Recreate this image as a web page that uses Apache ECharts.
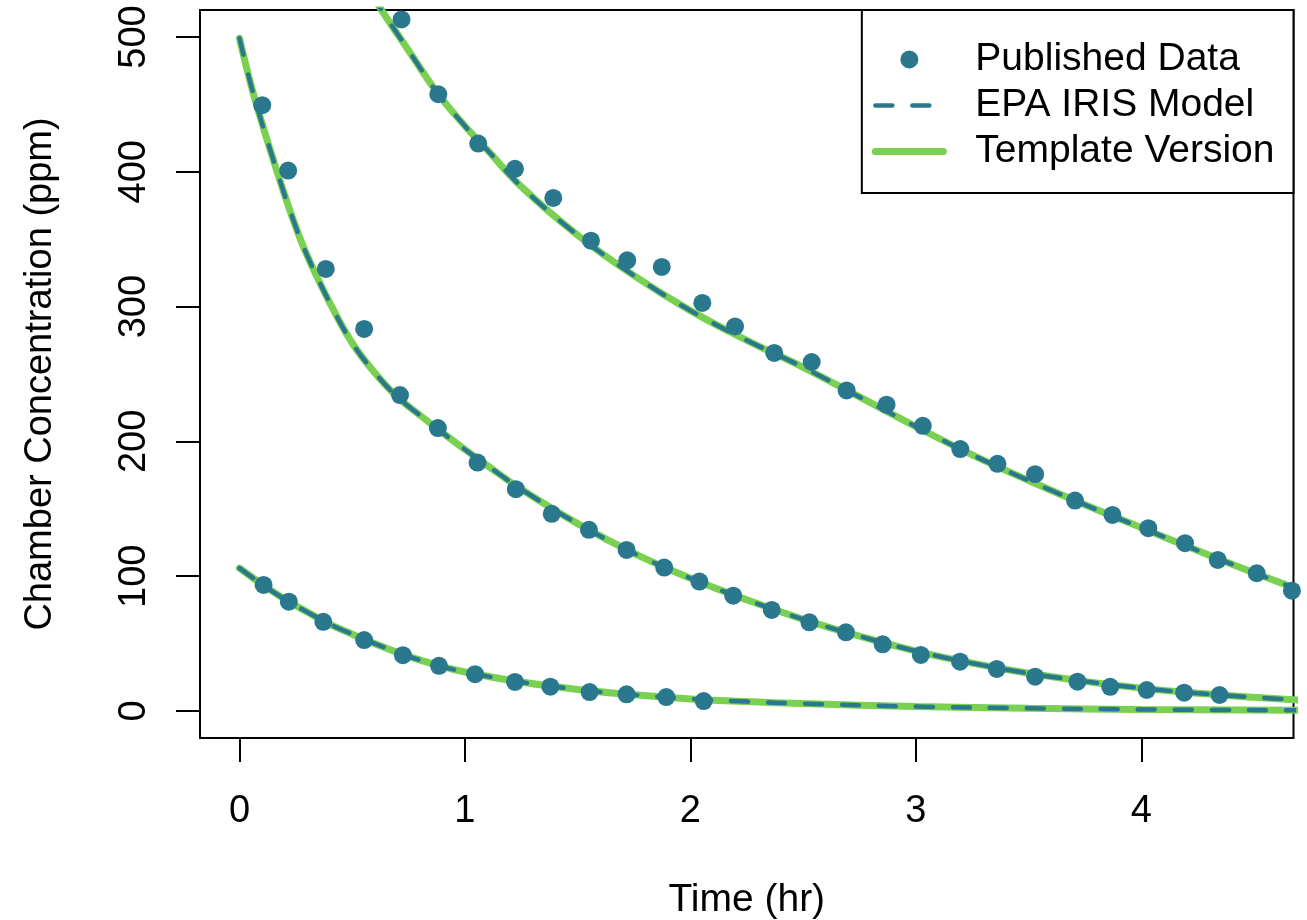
<!DOCTYPE html>
<html>
<head>
<meta charset="utf-8">
<script src="https://cdn.jsdelivr.net/npm/echarts@6/dist/echarts.min.js"></script>
<style>
  html, body { margin: 0; padding: 0; background: #fff; }
  #chart { width: 1307px; height: 920px; }
</style>
</head>
<body>
<div id="chart"></div>
<script>
// published chamber data, three runs (hr, ppm)
const tHigh = [0.719, 0.882, 1.059, 1.222, 1.392, 1.559, 1.720, 1.873, 2.053, 2.198, 2.372, 2.538, 2.693,
  2.870, 3.031, 3.197, 3.362, 3.529, 3.706, 3.872, 4.031, 4.194, 4.339, 4.512, 4.668];
const cHigh = [513, 457.5, 420.9, 402.2, 380.6, 348.9, 334.3, 329.4, 302.7, 285.3, 265.6, 258.9, 237.8,
  227.2, 211.6, 194.3, 183.4, 175.7, 156.1, 145.5, 135.6, 124.5, 112.1, 102.2, 89.3];

const tMid = [0.101, 0.216, 0.383, 0.553, 0.712, 0.880, 1.056, 1.226, 1.385, 1.550, 1.717, 1.884, 2.040,
  2.190, 2.361, 2.528, 2.690, 2.853, 3.022, 3.196, 3.359, 3.529, 3.717, 3.862, 4.024, 4.190, 4.347];
const cMid = [449.4, 400.9, 327.9, 283.4, 234.4, 209.9, 184.3, 164.6, 146.3, 134.4, 119.5, 106.4, 96.0,
  85.6, 75.0, 65.8, 58.4, 49.5, 41.6, 36.6, 31.2, 25.5, 21.8, 18.0, 15.6, 13.6, 11.9];

const tLow = [0.107, 0.219, 0.372, 0.553, 0.725, 0.885, 1.045, 1.222, 1.379, 1.553, 1.717, 1.893, 2.059];
const cLow = [93.5, 81.1, 66.2, 52.6, 41.4, 33.5, 27.3, 21.6, 18.1, 14.1, 12.4, 10.4, 7.4];

// model curves
const fitTHigh = [0.50, 0.63, 0.75, 0.88, 1.0, 1.1, 1.25, 1.5, 1.75, 2.0, 2.25, 2.5, 2.75, 3.0, 3.25,
  3.5, 3.75, 4.0, 4.25, 4.5, 4.7];
const fitHigh = [555, 520, 490, 458, 434, 416, 389, 353, 323, 297, 275, 255, 233, 211, 190,
  171, 153, 136, 119, 102.5, 90];

const fitTMid = [0, 0.05, 0.1, 0.15, 0.2, 0.25, 0.3, 0.4, 0.5, 0.6, 0.7, 0.8, 0.9, 1.0, 1.1, 1.25,
  1.5, 1.75, 2.0, 2.25, 2.5, 2.75, 3.0, 3.25, 3.5, 3.75, 4.0, 4.25, 4.5, 4.7];
const fitMid = [499, 465, 436, 409, 383, 359, 338, 303, 273, 251, 233, 219.5, 206.5, 194, 182, 164.5,
  139, 117, 98.5, 82.5, 68, 55.5, 44.5, 35.5, 28, 22, 17, 13.2, 10.2, 8.2];

const fitTLow = [0, 0.1, 0.2, 0.3, 0.4, 0.5, 0.6, 0.75, 0.9, 1.0, 1.25, 1.5, 1.75, 2.0, 2.25, 2.5,
  3.0, 3.5, 4.0, 4.7];
const fitLow = [106, 94, 83, 73.5, 64.5, 57, 50, 40.5, 33, 29, 21.5, 16, 12, 9, 7, 5.5,
  3.3, 2, 1.2, 0.5];

const xTicks = [0, 1, 2, 3, 4];
const yTicks = [0, 100, 200, 300, 400, 500];

const FONT = "'Liberation Sans', Arial, sans-serif";
const teal = '#2A788E';
const green = '#7AD151';

const zip = (xs, ys) => xs.map((x, i) => [x, ys[i]]);

const templateLine = (data) => ({
  name: 'Template Version',
  type: 'line',
  data,
  symbol: 'none',
  smooth: 0.4,
  clip: true,
  lineStyle: { color: green, width: 7, cap: 'round' },
  itemStyle: { color: green },
  z: 2
});

const epaLine = (data) => ({
  name: 'EPA IRIS Model',
  type: 'line',
  data,
  symbol: 'none',
  smooth: 0.4,
  clip: true,
  lineStyle: { color: teal, width: 4.5, type: [17, 20], cap: 'round' },
  itemStyle: { color: teal },
  z: 3
});

const dataPoints = (data) => ({
  name: 'Published Data',
  type: 'scatter',
  data,
  symbol: 'circle',
  symbolSize: 18,
  clip: true,
  itemStyle: { color: teal, opacity: 1 },
  z: 4
});

const chart = echarts.init(document.getElementById('chart'));

chart.setOption({
  animation: false,
  backgroundColor: '#fff',
  textStyle: { fontFamily: FONT },
  grid: {
    left: 200, right: 13.5, top: 10, bottom: 182,
    outerBoundsMode: 'none',
    containLabel: false,
    show: true, borderColor: '#000', borderWidth: 2, backgroundColor: 'transparent'
  },
  legend: {
    orient: 'vertical',
    right: 13.5,
    top: 10,
    padding: [30, 19, 22, 10],
    borderColor: '#000',
    borderWidth: 2,
    backgroundColor: '#fff',
    itemWidth: 68,
    itemHeight: 18,
    itemGap: 7,
    selectedMode: false,
    textStyle: { fontSize: 39, fontFamily: FONT, color: '#000', padding: [0, 0, 0, 27] },
    data: [
      { name: 'Published Data' },
      { name: 'EPA IRIS Model', itemStyle: { opacity: 0 }, lineStyle: { width: 4.5 } },
      { name: 'Template Version', itemStyle: { opacity: 0 }, lineStyle: { width: 7 } }
    ]
  },
  xAxis: {
    type: 'value',
    min: -0.175,
    max: 4.675,
    name: 'Time (hr)',
    nameLocation: 'middle',
    nameGap: 143,
    nameTextStyle: { fontSize: 39, color: '#000', fontFamily: FONT },
    axisLine: { show: false, onZero: false },
    splitLine: { show: false },
    axisTick: {
      show: true, inside: false, length: 24,
      lineStyle: { color: '#000', width: 2 },
      customValues: xTicks
    },
    axisLabel: {
      fontSize: 38, color: '#000', fontFamily: FONT, margin: 55,
      customValues: xTicks
    }
  },
  yAxis: {
    type: 'value',
    min: -20,
    max: 520,
    name: 'Chamber Concentration (ppm)',
    nameLocation: 'middle',
    nameGap: 140,
    nameTextStyle: { fontSize: 38, color: '#000', fontFamily: FONT },
    axisLine: { show: false, onZero: false },
    splitLine: { show: false },
    axisTick: {
      show: true, inside: false, length: 24,
      lineStyle: { color: '#000', width: 2 },
      customValues: yTicks
    },
    axisLabel: {
      fontSize: 38, color: '#000', fontFamily: FONT, margin: 46, rotate: 90,
      customValues: yTicks
    }
  },
  series: [
    templateLine(zip(fitTHigh, fitHigh)),
    templateLine(zip(fitTMid, fitMid)),
    templateLine(zip(fitTLow, fitLow)),
    epaLine(zip(fitTHigh, fitHigh)),
    epaLine(zip(fitTMid, fitMid)),
    epaLine(zip(fitTLow, fitLow)),
    dataPoints(zip(tHigh, cHigh)),
    dataPoints(zip(tMid, cMid)),
    dataPoints(zip(tLow, cLow))
  ]
});
</script>
</body>
</html>
